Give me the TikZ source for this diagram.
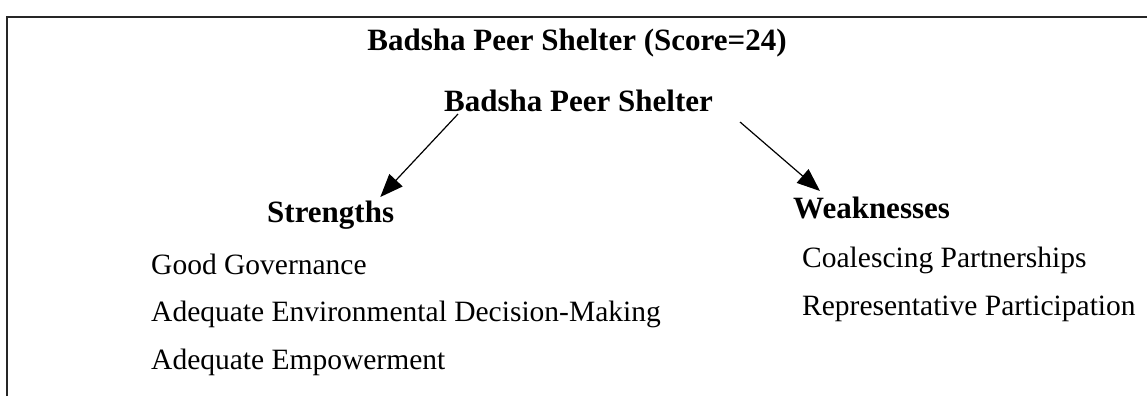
\documentclass[tikz,border=0pt]{standalone}
\usepackage{fontspec}
\setmainfont{Liberation Serif}
\usetikzlibrary{arrows.meta,calc}
\begin{document}
\begin{tikzpicture}[x=1pt,y=-1pt,
  head/.style={font=\fontsize{31}{31}\selectfont\bfseries, inner sep=0pt, anchor=base west},
  item/.style={font=\fontsize{29.5}{29.5}\selectfont, inner sep=0pt, anchor=base west},
  frameline/.style={line width=1.5pt, black!85},
  arr/.style={line width=1.2pt, -{Triangle[length=23pt,width=18pt]}}]
\useasboundingbox (0,0) rectangle (1147,396);
% open frame round the chart
\coordinate (fbl) at (7,396);
\coordinate (ftl) at (7,17);
\coordinate (ftr) at (1147,17);
\draw[frameline] (fbl) -- (ftl) -- (ftr);
% headings
\node[head, anchor=base] (title) at (577,50) {Badsha Peer Shelter (Score=24)};
\node[head] (shelter) at (444,111) {Badsha Peer Shelter};
\node[head] (str) at (267,222) {Strengths};
\node[head] (weak) at (793,218) {Weaknesses};
% strengths
\node[item] (s1) at (151,274) {Good Governance};
\node[item] (s2) at (151,321) {Adequate Environmental Decision-Making};
\node[item] (s3) at (151,369) {Adequate Empowerment};
% weaknesses
\node[item] (w1) at (802,267) {Coalescing Partnerships};
\node[item] (w2) at (802,315) {Representative Participation};
% branches
\draw[arr] ($(shelter.base west)+(14,3)$) -- ($(str.base east)+(-14,-25)$);
\draw[arr] ($(shelter.base east)+(27,11)$) -- ($(weak.base west)+(27,-27)$);
\end{tikzpicture}
\end{document}
